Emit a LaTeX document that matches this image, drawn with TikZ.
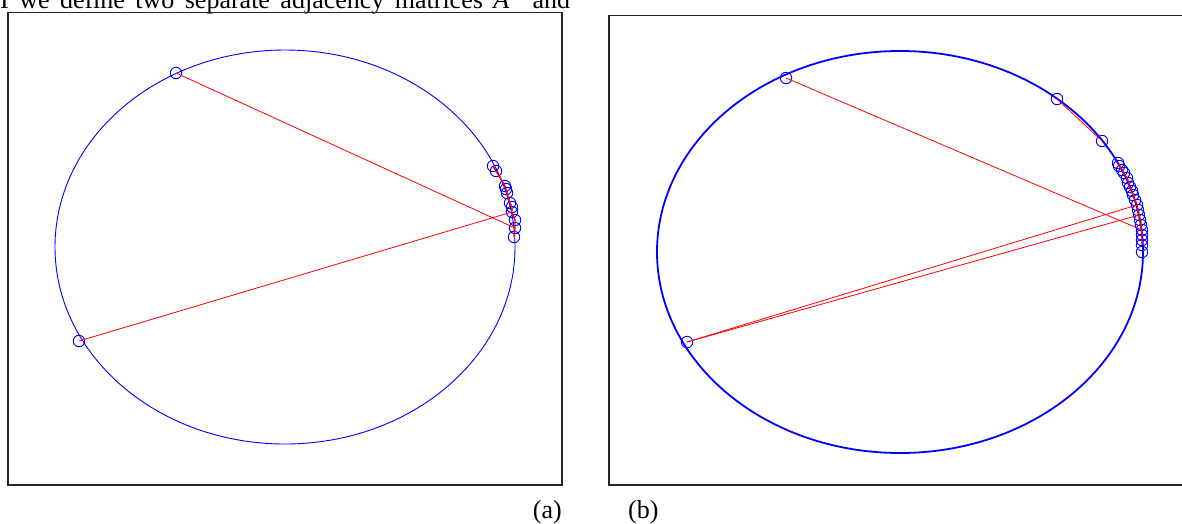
\documentclass[tikz,border=0pt]{standalone}
\usepackage{fontspec}
\setmainfont{Liberation Serif}
\begin{document}
\begin{tikzpicture}[x=1pt,y=-1pt,
  pt/.style={circle,draw=blue,line width=0.9pt,minimum size=11.5pt,inner sep=0pt},
  edge/.style={red,line width=0.8pt},
  chain/.style={red,line width=1.4pt},
  framebox/.style={draw=black!85,line width=1.3pt},
  ell/.style={draw=blue},
  lab/.style={font=\fontsize{26}{30}\selectfont,inner sep=0pt}]
\useasboundingbox (0,0) rectangle (1182,523);
\begin{scope}
\clip (0,0) rectangle (1182,523);
% clipped text line at the top
\node[lab,anchor=base west] (toptext) at (0,8)
  {\makebox[570pt][s]{I we define two separate adjacency matrices \textit{A}$^{\phantom{+}}$ and}};
% frames
\draw[framebox] (8,12.7) rectangle (562,485);
\draw[framebox] (609,15.5) rectangle (1195,485);

% ---------------- panel (a)
\draw[ell,line width=0.9pt] (285,247) ellipse [x radius=230, y radius=197];
\node[pt] (a0) at (176,73) {};
\node[pt] (a1) at (79,341) {};
\foreach \i/\x/\y in {1/493/166,2/496/171,3/505/186,4/506/189,5/507/193,6/510/203,
  7/512/207,8/512/212,9/515/220,10/515/228,11/514/237}
  \node[pt] (c\i) at (\x,\y) {};
\draw[chain] (c1.center) -- (c2.center) -- (c3.center) -- (c4.center) -- (c5.center)
  -- (c6.center) -- (c7.center) -- (c8.center) -- (c9.center) -- (c10.center) -- (c11.center);
\draw[edge] (a0.center) -- (c10.center);
\draw[edge] (a1.center) -- (c8.center);

% ---------------- panel (b)
\draw[ell,line width=1.8pt] (900,252) ellipse [x radius=243, y radius=201];
\node[pt] (b0) at (786,78) {};
\node[pt] (b1) at (687,342) {};
\node[pt] (d0) at (1057,99) {};
\node[pt] (d1) at (1102,141) {};
\foreach \i/\x/\y in {1/1118/163,2/1119/166,3/1122/170,4/1124/173,5/1127/178,6/1128/183,
  7/1130/187,8/1132/191,9/1133/195,10/1135/200,11/1137/205,12/1138/210,13/1139/215,
  14/1140/220,15/1141/225,16/1142/230,17/1142/235,18/1142/240,19/1142/245,20/1142/252}
  \node[pt] (e\i) at (\x,\y) {};
\draw[edge] (d0.center) -- (d1.center);
\draw[chain] (e1.center) -- (e3.center) -- (e5.center) -- (e7.center) -- (e9.center)
  -- (e11.center) -- (e13.center) -- (e15.center) -- (e17.center) -- (e19.center);
\draw[edge] (b0.center) -- (e16.center);
\draw[edge] (b1.center) -- (e11.center);
\draw[edge] (b1.center) -- (e13.center);
\end{scope}

% labels
\node[lab,anchor=base east] (la) at (562,518) {(a)};
\node[lab,anchor=base west] (lb) at (628,518) {(b)};
\end{tikzpicture}
\end{document}
